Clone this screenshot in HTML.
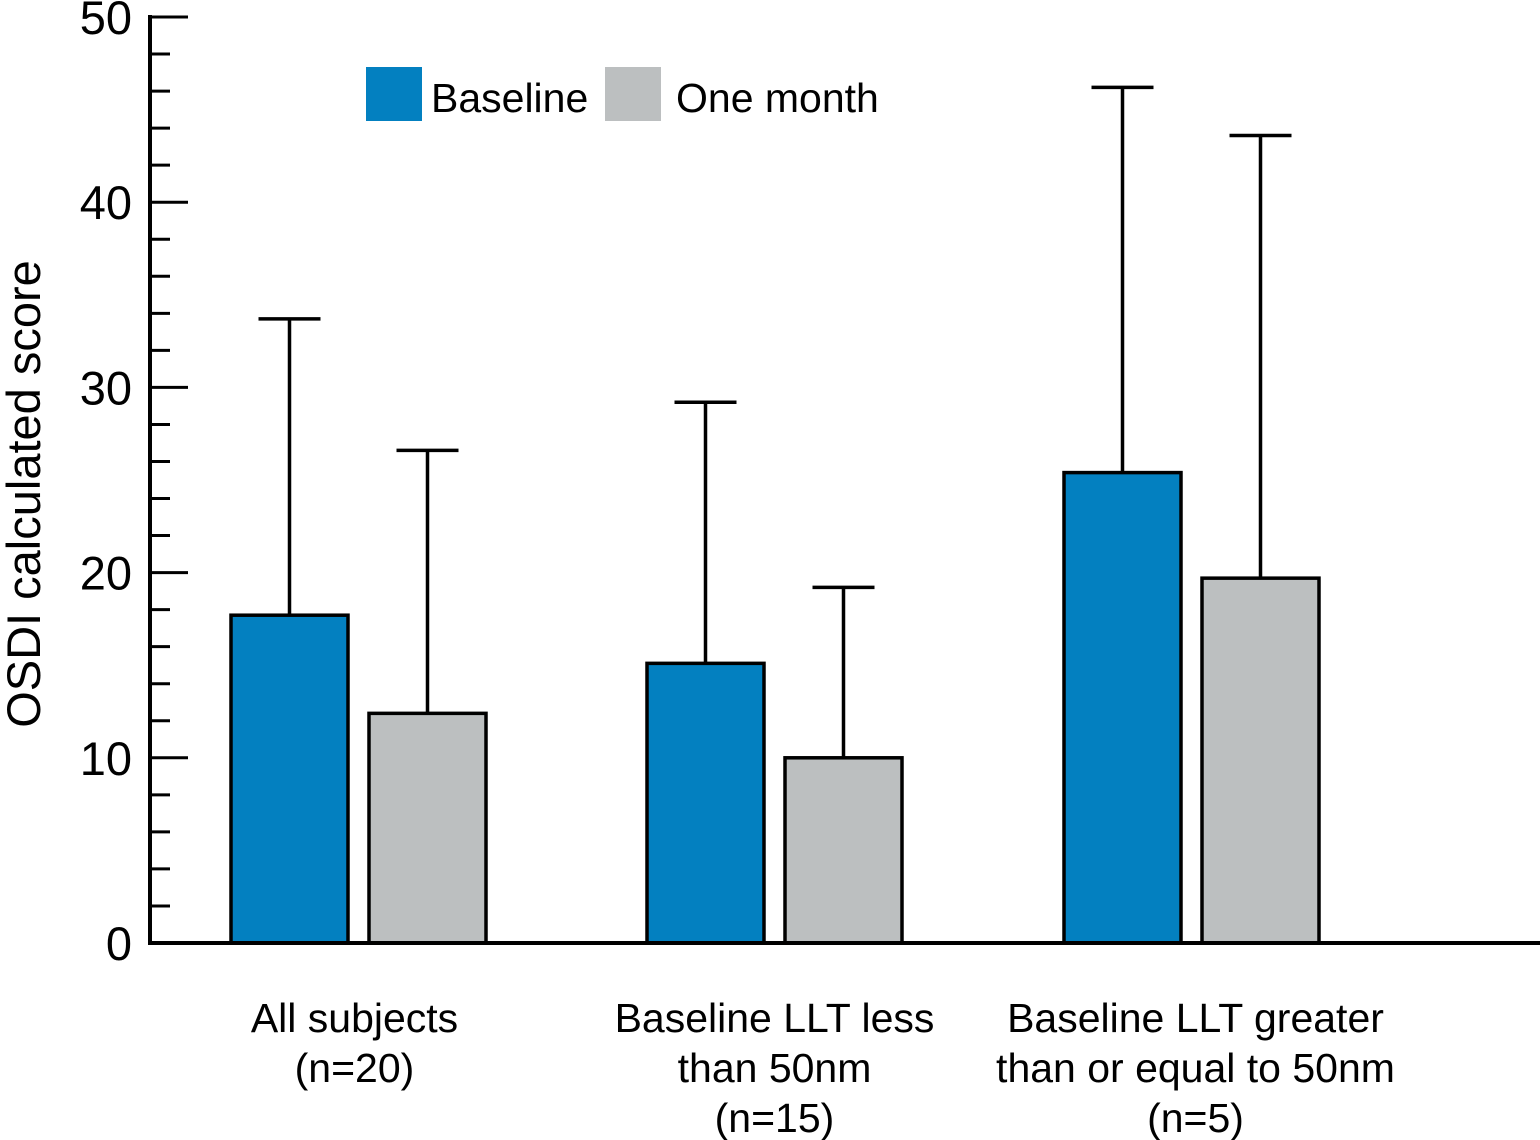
<!DOCTYPE html>
<html><head><meta charset="utf-8"><style>
html,body{margin:0;padding:0;background:#fff;}
svg{display:block;font-family:"Liberation Sans",Arial,sans-serif;}
</style></head><body>
<svg id="chart" width="1540" height="1140" viewBox="0 0 1540 1140"></svg>
<script>
const categories = [["All subjects","(n=20)"],["Baseline LLT less","than 50nm","(n=15)"],["Baseline LLT greater","than or equal to 50nm","(n=5)"]];
const seriesNames = ["Baseline","One month"];
const baselineValues = [17.7, 15.1, 25.4];
const oneMonthValues = [12.4, 10.0, 19.7];
const baselineErr = [33.7, 29.2, 46.2];
const oneMonthErr = [26.6, 19.2, 43.6];
const yTicks = [0,10,20,30,40,50];

const svg = document.getElementById('chart');
const NS = 'http://www.w3.org/2000/svg';
const y0 = 943, y50 = 17;
const y = v => y0 - (v/50)*(y0-y50);
const groupX = [231, 647, 1064];
const barW = 117, gap = 21;
const colors = ['#0380c0','#bcbfc0'];
function mk(tag, attrs){const e=document.createElementNS(NS,tag);for(const k in attrs)e.setAttribute(k,attrs[k]);svg.appendChild(e);return e;}

let ax = mk('line',{x1:150,y1:15,x2:150,y2:943,stroke:'#000','stroke-width':4});


for(let v=0; v<=50; v+=2){
  const major = v%10===0;
  const t = mk('line',{x1:150,y1:y(v),x2:major?188:170,y2:y(v),stroke:'#000','stroke-width':3});
  
  
}
yTicks.forEach(v=>{
  const t = mk('text',{x:132,y:y(v)+17,'text-anchor':'end','font-size':47});
  t.textContent = v;
  
  
});
const yt = mk('text',{x:0,y:0,'text-anchor':'middle','font-size':47,transform:'translate(40,494) rotate(-90)'});
yt.textContent='OSDI calculated score';



const vals=[baselineValues,oneMonthValues], errs=[baselineErr,oneMonthErr];
categories.forEach((c,i)=>{
  for(let s=0;s<2;s++){
    const x = groupX[i] + s*(barW+gap);
    const cx = x + barW/2;
    const e = mk('line',{x1:cx,y1:y(errs[s][i]),x2:cx,y2:y(vals[s][i]),stroke:'#000','stroke-width':3.5});
    
    
    const cap = mk('line',{x1:cx-31,y1:y(errs[s][i]),x2:cx+31,y2:y(errs[s][i]),stroke:'#000','stroke-width':3.5});
    
    
    const r = mk('rect',{x:x,y:y(vals[s][i]),width:barW,height:y0-y(vals[s][i]),fill:colors[s],stroke:'#000','stroke-width':3.5});
    
    
  }
  const cx = groupX[i] + barW + gap/2 + (i-1)*4;
  c.forEach((line,j)=>{
    const t = mk('text',{x:cx,y:1032+j*50,'text-anchor':'middle','font-size':41});
    t.textContent=line;
    
    
  });
});
const xa = mk('line',{x1:148,y1:943,x2:1540,y2:943,stroke:'#000','stroke-width':4});



const legX=[366,605], legTX=[431,676];
seriesNames.forEach((n,s)=>{
  const r = mk('rect',{x:legX[s],y:67,width:56,height:54,fill:colors[s]});
  
  
  const t = mk('text',{x:legTX[s],y:112,'font-size':41});
  t.textContent=n;
  
  
});
</script>
</body></html>
